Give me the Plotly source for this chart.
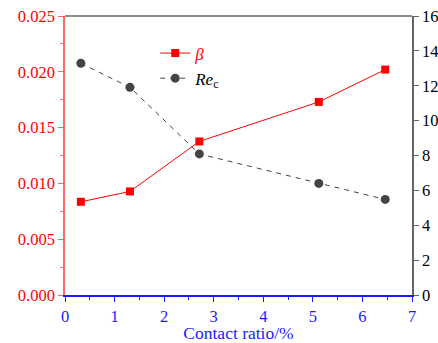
import plotly.graph_objects as go

contact_ratio = [0.32, 1.31, 2.71, 5.12, 6.46]
beta = [0.00835, 0.00928, 0.01376, 0.0173, 0.0202]
re_c = [13.29, 11.91, 8.09, 6.40, 5.48]

FONT = "Liberation Serif, Times New Roman, serif"
RED = "#ff0000"
BLUE = "#1a1aff"
GRAY = "#666666"

fig = go.Figure()
fig.add_trace(go.Scatter(
    x=contact_ratio, y=beta, mode="lines+markers",
    name="<span style='color:#ff0000'><i>β</i></span>",
    line=dict(color=RED, width=1),
    marker=dict(symbol="square", size=8, color=RED),
    yaxis="y"))
fig.add_trace(go.Scatter(
    x=contact_ratio, y=re_c, mode="lines+markers",
    name="<i>Re</i><sub>c</sub>",
    line=dict(color="#444444", width=1, dash="5px,5px"),
    marker=dict(symbol="circle", size=9, color="#444444"),
    yaxis="y2"))

fig.update_layout(
    width=438, height=343,
    margin=dict(l=65, r=26, t=16, b=48, autoexpand=False),
    paper_bgcolor="white", plot_bgcolor="white",
    font=dict(family=FONT, size=16, color="black"),
    showlegend=True,
    legend=dict(x=0.26, y=0.93, xanchor="left", yanchor="top",
                bgcolor="rgba(0,0,0,0)", font=dict(family=FONT, size=17),
                itemwidth=30, tracegroupgap=0),
    xaxis=dict(range=[0, 7], dtick=1, showgrid=False, zeroline=False,
               automargin=False, ticklabeloverflow="allow",
               showline=True, linecolor=BLUE, linewidth=1.5,
               ticks="outside", ticklen=5, tickcolor=BLUE,
               tickfont=dict(color=BLUE, size=16.5, family=FONT),
               minor=dict(dtick=0.5, ticks="outside", ticklen=3, tickcolor=BLUE),
               title=dict(text="Contact ratio/%", font=dict(color=BLUE, size=17.5, family=FONT), standoff=4)),
    yaxis=dict(range=[0, 0.025], dtick=0.005, tickformat=".3f",
               showgrid=False, zeroline=False, automargin=False,
               ticklabeloverflow="allow",
               showline=True, linecolor="#ff6666", linewidth=1.5,
               ticks="outside", ticklen=5, tickcolor="#ff6666",
               tickfont=dict(color=RED, size=16.5, family=FONT),
               minor=dict(dtick=0.0025, ticks="outside", ticklen=3, tickcolor="#ff6666")),
    yaxis2=dict(range=[0, 16], dtick=2, overlaying="y", side="right",
                showgrid=False, zeroline=False, automargin=False,
                ticklabeloverflow="allow",
                showline=True, linecolor=GRAY, linewidth=1.5,
                ticks="outside", ticklen=5, tickcolor=GRAY,
                tickfont=dict(color="black", size=16.5, family=FONT)),
    shapes=[dict(type="line", xref="paper", yref="paper", x0=0, x1=1, y0=1, y1=1,
                 line=dict(color=GRAY, width=1.5))],
)

fig.write_html(
    "out.html",
    config={"displayModeBar": False},
    post_script="document.body.style.margin='0';document.body.style.overflow='hidden';",
)
